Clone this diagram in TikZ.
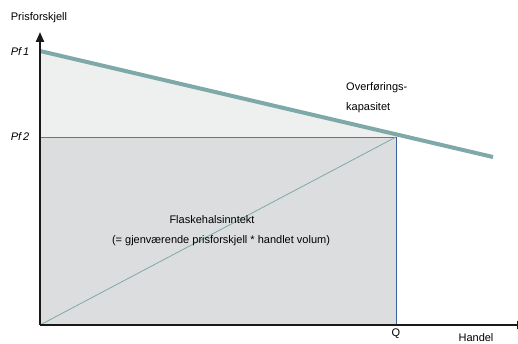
\documentclass[tikz,border=0pt]{standalone}
\usepackage{fontspec}
\setmainfont{Liberation Sans}
\usetikzlibrary{arrows.meta}
\definecolor{capline}{HTML}{7FA9A8}
\definecolor{lightfill}{HTML}{EEEFEF}
\definecolor{rectfill}{HTML}{DCDDDE}
\definecolor{qblue}{HTML}{3A5F9E}
\tikzset{
  lbl/.style={font=\fontsize{11}{13}\selectfont, inner sep=0pt},
  axisline/.style={line width=2pt, draw=black!90},
}
\begin{document}
\begin{tikzpicture}[x=1pt,y=1pt]
\useasboundingbox (0,0) rectangle (518,343);
% key points (y measured upward from the bottom edge)
\coordinate (O) at (40,18);
\coordinate (P1) at (40,292);
\coordinate (P2) at (40,206);
\coordinate (C) at (396,208.5);
\coordinate (QT) at (396,206);
\coordinate (QB) at (396,18);
\coordinate (E) at (493,186);
\coordinate (Ytop) at (40,311);
\coordinate (Xend) at (527,18);
% surplus triangle above the price difference
\fill[lightfill] (P1) -- (C) -- (QT) -- (P2) -- cycle;
% congestion revenue rectangle
\fill[rectfill] (P2) rectangle (QB);
\draw[black!55, line width=0.7pt] (P2) -- (QT);
\draw[qblue, line width=0.7pt] (QT) -- (QB);
% diagonal
\draw[capline, line width=0.8pt] (O) -- (QT);
% capacity line
\draw[capline, line width=4pt] (P1) -- (E);
% axes
\draw[axisline, -{Triangle[width=8pt,length=10pt]}] (O) -- (Ytop);
\draw[axisline, -{Triangle[width=8pt,length=10pt]}] (O) -- (Xend);
% labels
\node[lbl] (ylab) at (39,325) {Prisforskjell};
\node[lbl, font=\fontsize{11}{13}\selectfont\itshape] (pf1) at (20,291) {Pf\,1};
\node[lbl, font=\fontsize{11}{13}\selectfont\itshape] (pf2) at (20,206) {Pf\,2};
\node[lbl, align=left, anchor=north west, font=\fontsize{11}{20}\selectfont] (cap) at (346,261) {Overførings-\\kapasitet};
\node[lbl] (rev1) at (212,123) {Flaskehalsinntekt};
\node[lbl] (rev2) at (221,102) {(= gjenværende prisforskjell * handlet volum)};
\node[lbl] (q) at (396,9) {Q};
\node[lbl] (xlab) at (476,5) {Handel};
\end{tikzpicture}
\end{document}
